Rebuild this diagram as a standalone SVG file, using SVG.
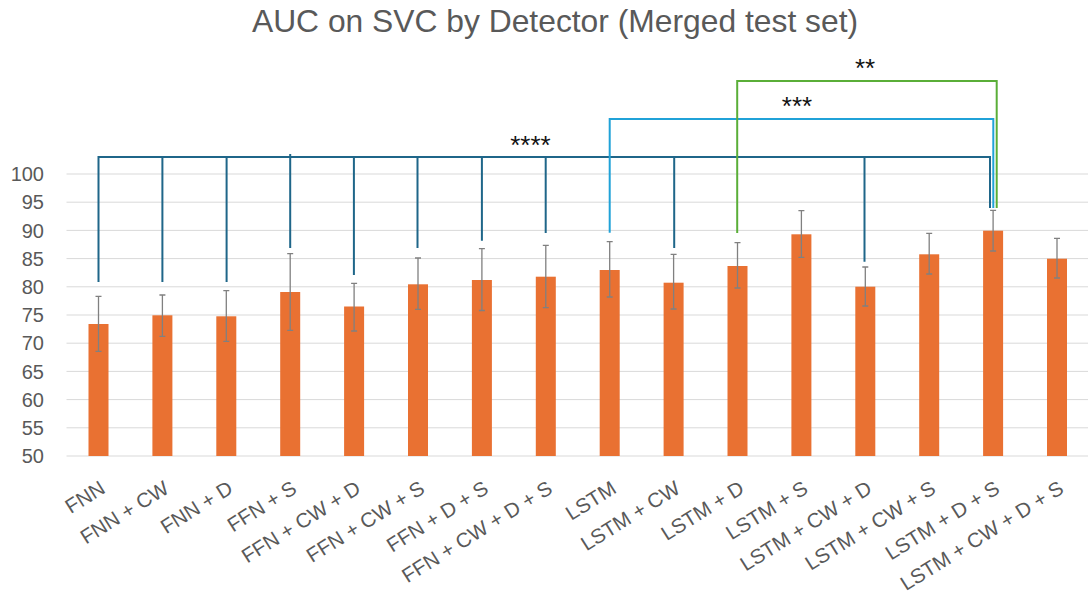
<svg xmlns="http://www.w3.org/2000/svg" width="1088" height="595" viewBox="0 0 1088 595">
  <style>
    .title { font-family: "Liberation Sans", Arial, sans-serif; font-size: 31.8px; fill: #595959; }
    .ytick { font-family: "Liberation Sans", Arial, sans-serif; font-size: 20px; fill: #595959; text-anchor: end; }
    .xtick { font-family: "Liberation Sans", Arial, sans-serif; font-size: 20.5px; fill: #595959; text-anchor: end; }
    .grid { stroke: #d9d9d9; stroke-width: 1; }
    .bar { fill: #e97132; }
    .err { stroke: #808080; stroke-width: 1.3; fill: none; }
    .sig { font-family: "Liberation Sans", Arial, sans-serif; font-size: 26px; fill: #111; text-anchor: middle; }
    .b4 { stroke: #1f6689; stroke-width: 2; fill: none; }
    .b3 { stroke: #20a2d8; stroke-width: 2; fill: none; }
    .b2 { stroke: #5aae38; stroke-width: 2; fill: none; }
  </style>

  <rect width="1088" height="595" fill="#ffffff"/>

  <text class="title" x="555" y="31.5" text-anchor="middle">AUC on SVC by Detector (Merged test set)</text>

  <!-- value axis grid and labels -->
  <g id="grid">
    <line class="grid" x1="66.5" y1="174" x2="1088" y2="174"/>
    <line class="grid" x1="66.5" y1="202.2" x2="1088" y2="202.2"/>
    <line class="grid" x1="66.5" y1="230.4" x2="1088" y2="230.4"/>
    <line class="grid" x1="66.5" y1="258.6" x2="1088" y2="258.6"/>
    <line class="grid" x1="66.5" y1="286.8" x2="1088" y2="286.8"/>
    <line class="grid" x1="66.5" y1="315" x2="1088" y2="315"/>
    <line class="grid" x1="66.5" y1="343.2" x2="1088" y2="343.2"/>
    <line class="grid" x1="66.5" y1="371.4" x2="1088" y2="371.4"/>
    <line class="grid" x1="66.5" y1="399.6" x2="1088" y2="399.6"/>
    <line class="grid" x1="66.5" y1="427.8" x2="1088" y2="427.8"/>
    <line class="grid" x1="66.5" y1="456" x2="1088" y2="456"/>
  </g>
  <g id="y-axis">
    <text class="ytick" x="44" y="181.2">100</text>
    <text class="ytick" x="44" y="209.4">95</text>
    <text class="ytick" x="44" y="237.6">90</text>
    <text class="ytick" x="44" y="265.8">85</text>
    <text class="ytick" x="44" y="294">80</text>
    <text class="ytick" x="44" y="322.2">75</text>
    <text class="ytick" x="44" y="350.4">70</text>
    <text class="ytick" x="44" y="378.6">65</text>
    <text class="ytick" x="44" y="406.8">60</text>
    <text class="ytick" x="44" y="435">55</text>
    <text class="ytick" x="44" y="463.2">50</text>
  </g>

  <!-- one group per detector: bar, error bar, category label -->
  <g id="fnn">
    <rect class="bar" x="88.5" y="324" width="20" height="132"/>
    <path class="err" d="M98.5,296.3V351.3M95.5,296.3H101.5M95.5,351.3H101.5"/>
    <text class="xtick" transform="translate(106.5,492) rotate(-32)">FNN</text>
  </g>
  <g id="fnn-cw">
    <rect class="bar" x="152.4" y="315.3" width="20" height="140.7"/>
    <path class="err" d="M162.4,295V336.3M159.4,295H165.4M159.4,336.3H165.4"/>
    <text class="xtick" transform="translate(170.4,492) rotate(-32)">FNN + CW</text>
  </g>
  <g id="fnn-d">
    <rect class="bar" x="216.3" y="316.3" width="20" height="139.7"/>
    <path class="err" d="M226.3,290.7V341.3M223.3,290.7H229.3M223.3,341.3H229.3"/>
    <text class="xtick" transform="translate(234.3,492) rotate(-32)">FNN + D</text>
  </g>
  <g id="ffn-s">
    <rect class="bar" x="280.2" y="292" width="20" height="164"/>
    <path class="err" d="M290.2,253.7V330.3M287.2,253.7H293.2M287.2,330.3H293.2"/>
    <text class="xtick" transform="translate(298.2,492) rotate(-32)">FFN + S</text>
  </g>
  <g id="ffn-cw-d">
    <rect class="bar" x="344.1" y="306.5" width="20" height="149.5"/>
    <path class="err" d="M354.1,283.3V331M351.1,283.3H357.1M351.1,331H357.1"/>
    <text class="xtick" transform="translate(362.1,492) rotate(-32)">FFN + CW + D</text>
  </g>
  <g id="ffn-cw-s">
    <rect class="bar" x="408" y="284.3" width="20" height="171.7"/>
    <path class="err" d="M418,258V309.4M415,258H421M415,309.4H421"/>
    <text class="xtick" transform="translate(426,492) rotate(-32)">FFN + CW + S</text>
  </g>
  <g id="ffn-d-s">
    <rect class="bar" x="471.9" y="280" width="20" height="176"/>
    <path class="err" d="M481.9,248.7V310.5M478.9,248.7H484.9M478.9,310.5H484.9"/>
    <text class="xtick" transform="translate(489.9,492) rotate(-32)">FFN + D + S</text>
  </g>
  <g id="ffn-cw-d-s">
    <rect class="bar" x="535.8" y="276.7" width="20" height="179.3"/>
    <path class="err" d="M545.8,245.3V307.7M542.8,245.3H548.8M542.8,307.7H548.8"/>
    <text class="xtick" transform="translate(553.8,492) rotate(-32)">FFN + CW + D + S</text>
  </g>
  <g id="lstm">
    <rect class="bar" x="599.7" y="270" width="20" height="186"/>
    <path class="err" d="M609.7,241.7V297M606.7,241.7H612.7M606.7,297H612.7"/>
    <text class="xtick" transform="translate(617.7,492) rotate(-32)">LSTM</text>
  </g>
  <g id="lstm-cw">
    <rect class="bar" x="663.6" y="282.7" width="20" height="173.3"/>
    <path class="err" d="M673.6,254.3V309M670.6,254.3H676.6M670.6,309H676.6"/>
    <text class="xtick" transform="translate(681.6,492) rotate(-32)">LSTM + CW</text>
  </g>
  <g id="lstm-d">
    <rect class="bar" x="727.5" y="266" width="20" height="190"/>
    <path class="err" d="M737.5,242.7V288M734.5,242.7H740.5M734.5,288H740.5"/>
    <text class="xtick" transform="translate(745.5,492) rotate(-32)">LSTM + D</text>
  </g>
  <g id="lstm-s">
    <rect class="bar" x="791.4" y="234.3" width="20" height="221.7"/>
    <path class="err" d="M801.4,210.7V257.3M798.4,210.7H804.4M798.4,257.3H804.4"/>
    <text class="xtick" transform="translate(809.4,492) rotate(-32)">LSTM + S</text>
  </g>
  <g id="lstm-cw-d">
    <rect class="bar" x="855.3" y="286.7" width="20" height="169.3"/>
    <path class="err" d="M865.3,267V306M862.3,267H868.3M862.3,306H868.3"/>
    <text class="xtick" transform="translate(873.3,492) rotate(-32)">LSTM + CW + D</text>
  </g>
  <g id="lstm-cw-s">
    <rect class="bar" x="919.2" y="254.3" width="20" height="201.7"/>
    <path class="err" d="M929.2,233.3V274M926.2,233.3H932.2M926.2,274H932.2"/>
    <text class="xtick" transform="translate(937.2,492) rotate(-32)">LSTM + CW + S</text>
  </g>
  <g id="lstm-d-s">
    <rect class="bar" x="983.1" y="230.7" width="20" height="225.3"/>
    <path class="err" d="M993.1,210.3V251M990.1,210.3H996.1M990.1,251H996.1"/>
    <text class="xtick" transform="translate(1001.1,492) rotate(-32)">LSTM + D + S</text>
  </g>
  <g id="lstm-cw-d-s">
    <rect class="bar" x="1047" y="258.7" width="20" height="197.3"/>
    <path class="err" d="M1057,238.3V278M1054,238.3H1060M1054,278H1060"/>
    <text class="xtick" transform="translate(1065,492) rotate(-32)">LSTM + CW + D + S</text>
  </g>

  <!-- significance brackets against LSTM + D + S -->
  <g id="connectors">
    <path class="b4" d="M98.5,282V157H990V208"/>
    <path class="b4" d="M162.4,157V282M226.6,157V282M290.2,154V248M353.9,157V275M417.5,157V248M481.9,157V240.7M545.7,157V233M674.2,157V248M864.5,157V261.7"/>
    <path class="b3" d="M609.7,232.7V119H993.3V208"/>
    <path class="b2" d="M737.2,233V81H996.7V208"/>
    <text class="sig" x="530.5" y="153.5">****</text>
    <text class="sig" x="797" y="114.5">***</text>
    <text class="sig" x="865" y="77">**</text>
  </g>
</svg>
